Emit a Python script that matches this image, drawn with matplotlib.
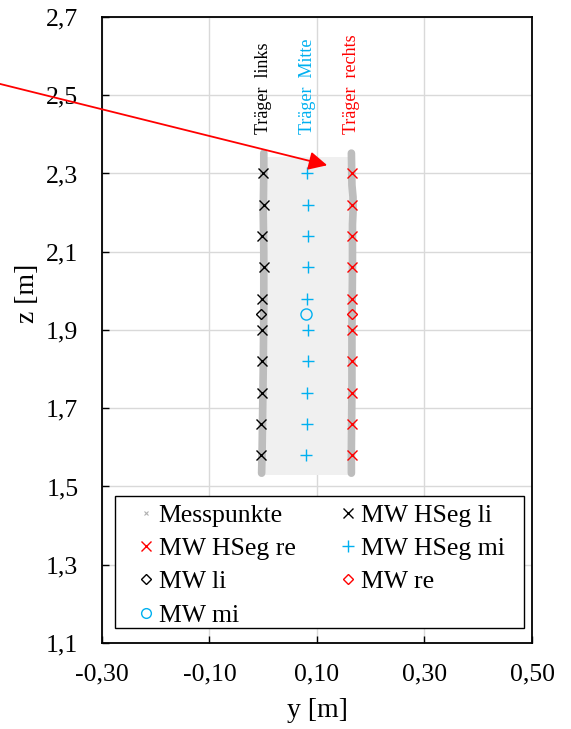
import matplotlib
matplotlib.use("Agg")
import matplotlib.pyplot as plt
from matplotlib.lines import Line2D
from matplotlib.patches import Rectangle

plt.rcParams['font.family'] = ['Liberation Serif', 'DejaVu Serif']

# Mittelwerte je Höhensegment (y, z)
z_hseg = [2.30, 2.22, 2.14, 2.06, 1.98, 1.90, 1.82, 1.74, 1.66, 1.58]
y_hseg_li = [0.000, 0.001, -0.002, 0.001, -0.002, -0.002, -0.002, -0.002, -0.004, -0.004]
y_hseg_mi = [0.082, 0.084, 0.084, 0.083, 0.082, 0.083, 0.083, 0.081, 0.081, 0.080]
y_hseg_re = [0.165, 0.166, 0.166, 0.166, 0.166, 0.166, 0.166, 0.166, 0.165, 0.165]

# Gesamtmittelwerte
z_mw = [1.94]
y_mw_li = [-0.004]
y_mw_mi = [0.080]
y_mw_re = [0.166]

# Messpunkte (Umriss der Punktwolke)
mp_li_y = [-0.003, -0.002, -0.001, 0.000, 0.001, 0.001, 0.000, 0.001, 0.001]
mp_li_z = [1.534, 1.60, 1.70, 1.80, 1.95, 2.10, 2.20, 2.30, 2.352]
mp_re_y = [0.164, 0.164, 0.165, 0.165, 0.166, 0.166, 0.167, 0.167, 0.165, 0.164]
mp_re_z = [1.534, 1.60, 1.75, 1.90, 2.05, 2.17, 2.20, 2.24, 2.27, 2.352]
mp_fill_y = [0.000, 0.165, 0.165, 0.000]
mp_fill_z = [1.529, 1.529, 2.343, 2.343]

# Beschriftung der Träger
traeger_txt = ["Träger  links", "Träger  Mitte", "Träger  rechts"]
traeger_y = [0.000, 0.083, 0.165]
traeger_z = 2.40

# Pfeil
pfeil_start = (-0.49, 2.529)
pfeil_ende = (0.119, 2.321)

xticks = [-0.30, -0.10, 0.10, 0.30, 0.50]
yticks = [1.1, 1.3, 1.5, 1.7, 1.9, 2.1, 2.3, 2.5, 2.7]

BLAU = '#00b0f0'
ROT = '#ff0000'

fig = plt.figure(figsize=(5.71, 7.29), dpi=100)
ax = fig.add_axes([0.1786, 0.118, 0.7531, 0.8587])

ax.fill(mp_fill_y, mp_fill_z, color='#f0f0f0', lw=0, zorder=1)
ax.plot(mp_li_y, mp_li_z, color='#bdbdbd', lw=5.5, solid_capstyle='round', zorder=2)
ax.plot(mp_re_y, mp_re_z, color='#bdbdbd', lw=5.5, solid_capstyle='round', zorder=2)

ax.plot(y_hseg_li, z_hseg, 'x', color='black', ms=7, mew=1.0, zorder=3)
ax.plot(y_hseg_re, z_hseg, 'x', color=ROT, ms=7, mew=1.0, zorder=3)
ax.plot(y_hseg_mi, z_hseg, '+', color=BLAU, ms=8, mew=1.0, zorder=3)
ax.plot(y_mw_li, z_mw, 'D', mfc='none', mec='black', ms=5, mew=1.0, zorder=3)
ax.plot(y_mw_re, z_mw, 'D', mfc='none', mec=ROT, ms=5, mew=1.0, zorder=3)
ax.plot(y_mw_mi, z_mw, 'o', mfc='none', mec=BLAU, ms=8, mew=1.0, zorder=3)

for txt, yy, col in zip(traeger_txt, traeger_y, ['black', BLAU, ROT]):
    ax.text(yy, traeger_z, txt, rotation=90, ha='center', va='bottom',
            color=col, fontsize=13, zorder=4)

ax.annotate('', xy=pfeil_ende, xytext=pfeil_start, annotation_clip=False,
            arrowprops=dict(arrowstyle='-|>', color=ROT, lw=1.3,
                            mutation_scale=28, shrinkA=0, shrinkB=0),
            zorder=5)

ax.set_xlim(-0.30, 0.50)
ax.set_ylim(1.1, 2.7)
ax.set_xticks(xticks)
ax.set_yticks(yticks)
ax.set_xticklabels([f"{v:.2f}".replace('.', ',') for v in xticks])
ax.set_yticklabels([f"{v:.1f}".replace('.', ',') for v in yticks])
ax.tick_params(direction='in', length=5, width=1, labelsize=18.5)
ax.tick_params(axis='x', pad=15)
ax.tick_params(axis='y', pad=17)
ax.grid(True, color='#d9d9d9', lw=1)
ax.set_axisbelow(True)
for sp in ax.spines.values():
    sp.set_linewidth(1.3)
ax.set_xlabel("y [m]", fontsize=20)
ax.set_ylabel("z [m]", fontsize=20)
ax.xaxis.set_label_coords(0.5, -0.088)
ax.yaxis.set_label_coords(-0.145, 0.559)

# Legendenrahmen separat, Legende selbst ohne Rahmen
ax.add_patch(Rectangle((0.03, 0.024), 0.951, 0.211, transform=ax.transAxes,
                       facecolor='white', edgecolor='black', lw=1.0, zorder=5))

# Reihenfolge spaltenweise, damit die Legende zeilenweise gelesen passt
handles = [
    Line2D([], [], ls='none', marker='x', color='#b0b0b0', ms=3, mew=0.8),
    Line2D([], [], ls='none', marker='x', color=ROT, ms=7, mew=1.0),
    Line2D([], [], ls='none', marker='D', mfc='none', mec='black', ms=5, mew=1.0),
    Line2D([], [], ls='none', marker='o', mfc='none', mec=BLAU, ms=7, mew=1.0),
    Line2D([], [], ls='none', marker='x', color='black', ms=7, mew=1.0),
    Line2D([], [], ls='none', marker='+', color=BLAU, ms=8, mew=1.0),
    Line2D([], [], ls='none', marker='D', mfc='none', mec=ROT, ms=5, mew=1.0),
]
labels = ["Messpunkte", "MW HSeg re", "MW li", "MW mi",
          "MW HSeg li", "MW HSeg mi", "MW re"]
leg = ax.legend(handles, labels, ncol=2, loc='lower left',
                bbox_to_anchor=(0.03, 0.018), borderaxespad=0,
                fontsize=18.5, frameon=False, handlelength=2.0,
                handletextpad=-0.5, labelspacing=0.4, borderpad=0.2,
                columnspacing=1.05)
leg.set_zorder(6)

fig.savefig("out.png", dpi=100)
